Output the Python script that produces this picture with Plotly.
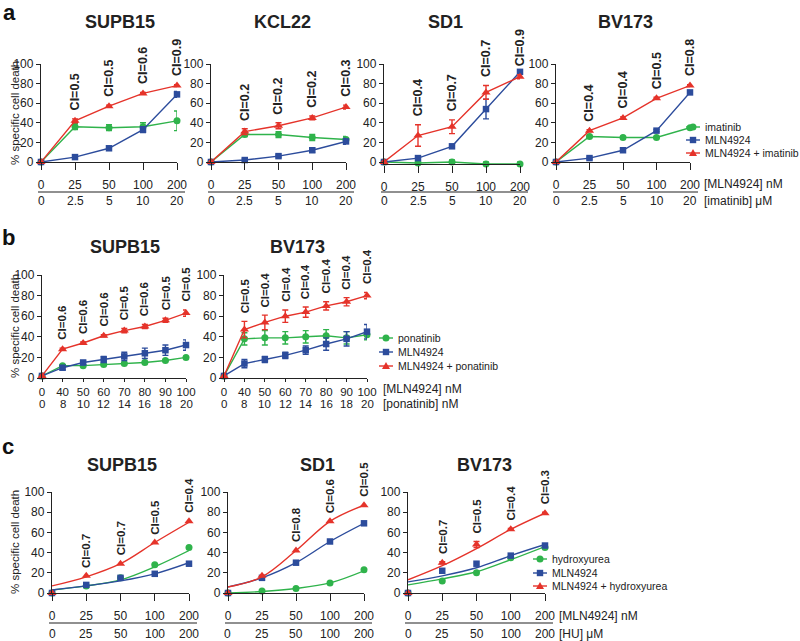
import plotly.graph_objects as go

W, H = 800, 641

# ---------------- data: panel a (imatinib) ----------------
a_mln = [0, 25, 50, 100, 200]
a_ima = [0, 2.5, 5, 10, 20]

a_supb15_drug = [0, 36, 35, 36, 42]
a_supb15_drug_err = [0, 3, 3, 4, 10]
a_supb15_mln = [0, 5, 14, 33, 69]
a_supb15_mln_err = [0, 1, 1, 3, 3]
a_supb15_combo = [0, 42, 57, 70, 78]
a_supb15_combo_err = [0, 2, 1, 1, 1]
a_supb15_ci = ["0.5", "0.5", "0.6", "0.9"]

a_kcl22_drug = [0, 28, 28, 25, 23]
a_kcl22_drug_err = [0, 2, 3, 3, 3]
a_kcl22_mln = [0, 2, 6, 12, 21]
a_kcl22_mln_err = [0, 1, 1, 2, 3]
a_kcl22_combo = [0, 31, 37, 45, 56]
a_kcl22_combo_err = [0, 3, 3, 2, 2]
a_kcl22_ci = ["0.2", "0.2", "0.2", "0.3"]

a_sd1_drug = [0, -1, 0, -2, -2]
a_sd1_drug_err = [0, 2, 2, 2, 2]
a_sd1_mln = [0, 4, 16, 54, 92]
a_sd1_mln_err = [0, 1, 1, 10, 1]
a_sd1_combo = [0, 27, 36, 71, 87]
a_sd1_combo_err = [0, 11, 7, 7, 2]
a_sd1_ci = ["0.4", "0.7", "0.7", "0.9"]

a_bv173_drug = [0, 26, 25, 25, 35]
a_bv173_drug_err = [0, 1, 1, 1, 1]
a_bv173_mln = [0, 4, 12, 32, 71]
a_bv173_mln_err = [0, 1, 1, 1, 2]
a_bv173_combo = [0, 32, 45, 65, 78]
a_bv173_combo_err = [0, 1, 1, 1, 1]
a_bv173_ci = ["0.4", "0.4", "0.5", "0.8"]

# ---------------- data: panel b (ponatinib) ----------------
b_mln = [0, 40, 50, 60, 70, 80, 90, 100]
b_pon = [0, 8, 10, 12, 14, 16, 18, 20]

b_supb15_drug = [2, 12, 12, 13, 14, 15, 17, 20]
b_supb15_drug_err = [0, 1, 1, 1, 1, 1, 1, 1]
b_supb15_mln = [2, 10, 15, 18, 21, 24, 27, 32]
b_supb15_mln_err = [0, 2, 2, 3, 4, 5, 5, 5]
b_supb15_combo = [2, 28, 34, 41, 46, 50, 56, 63]
b_supb15_combo_err = [0, 1, 1, 1, 2, 2, 2, 3]
b_supb15_ci = ["0.6", "0.6", "0.6", "0.5", "0.6", "0.5", "0.5"]

b_bv173_drug = [2, 38, 39, 39, 40, 41, 39, 42]
b_bv173_drug_err = [0, 6, 7, 6, 6, 6, 6, 5]
b_bv173_mln = [2, 14, 18, 22, 27, 33, 38, 45]
b_bv173_mln_err = [0, 4, 3, 3, 4, 6, 7, 7]
b_bv173_combo = [2, 47, 54, 60, 64, 70, 74, 80]
b_bv173_combo_err = [0, 8, 7, 6, 5, 4, 4, 3]
b_bv173_ci = ["0.5", "0.4", "0.4", "0.4", "0.4", "0.4", "0.4"]

# ---------------- data: panel c (hydroxyurea) ----------------
c_mln = [0, 25, 50, 100, 200]
c_hu = [0, 25, 50, 100, 200]

c_supb15_drug = [0, 7, 15, 28, 45]
c_supb15_drug_fit = [3, 7, 13, 26, 42]
c_supb15_mln = [0, 8, 15, 19, 29]
c_supb15_mln_fit = [3, 7, 12, 19, 30]
c_supb15_combo = [0, 17, 29, 50, 71]
c_supb15_combo_fit = [7, 16, 29, 50, 70]
c_supb15_ci = ["0.7", "0.7", "0.5", "0.4"]

c_sd1_drug = [0, 2, 4.5, 10, 23]
c_sd1_drug_fit = [0, 1.5, 4.5, 10, 22]
c_sd1_mln = [0, 15, 30, 51, 69]
c_sd1_mln_fit = [6, 15, 30, 51, 69]
c_sd1_combo = [0, 17, 42, 71, 87]
c_sd1_combo_fit = [6, 16, 42, 71, 87]
c_sd1_ci = [None, "0.8", "0.6", "0.5"]

c_bv173_drug = [0, 12, 20, 35, 45]
c_bv173_drug_fit = [8, 14, 21, 33, 46]
c_bv173_mln = [0, 22, 29, 37, 47]
c_bv173_mln_fit = [11, 17, 25, 37, 48]
c_bv173_combo = [0, 30, 48, 63, 79]
c_bv173_combo_err = [0, 1, 3, 1, 1]
c_bv173_combo_fit = [13, 27, 44, 63, 79]
c_bv173_ci = ["0.7", "0.5", "0.4", "0.3"]

GREEN = "#2fb34b"
BLUE = "#2c4c9c"
RED = "#e5332a"
INK = "#222222"
FONT = "Arial, Liberation Sans, sans-serif"


def px(x):
    return x / W


def py(y):
    return 1 - y / H


# box = (x of y-axis, x of last tick, y of 0, y of 100) in pixels
panels = [
    dict(cats=a_mln, sub=a_ima, box=(41, 177, 162, 64), row2=201, sep=192, tlen=7, fs=12, cifs=12.5,
         title="SUPB15", tpos=(120, 22),
         drug=(a_supb15_drug, a_supb15_drug_err), mln=(a_supb15_mln, a_supb15_mln_err),
         combo=(a_supb15_combo, a_supb15_combo_err), ci=a_supb15_ci),
    dict(cats=a_mln, sub=a_ima, box=(211, 346, 162, 64), row2=201, sep=192, tlen=7, fs=12, cifs=12.5,
         title="KCL22", tpos=(282, 22),
         drug=(a_kcl22_drug, a_kcl22_drug_err), mln=(a_kcl22_mln, a_kcl22_mln_err),
         combo=(a_kcl22_combo, a_kcl22_combo_err), ci=a_kcl22_ci),
    dict(cats=a_mln, sub=a_ima, box=(384, 520, 162, 64), row2=201, sep=192, tlen=7, fs=12, cifs=12.5,
         title="SD1", tpos=(445, 22), ymin=-2.5,
         drug=(a_sd1_drug, a_sd1_drug_err), mln=(a_sd1_mln, a_sd1_mln_err),
         combo=(a_sd1_combo, a_sd1_combo_err), ci=a_sd1_ci),
    dict(cats=a_mln, sub=a_ima, box=(556, 690, 162, 64), row2=201, sep=192, tlen=7, fs=12, cifs=12.5,
         title="BV173", tpos=(625, 22),
         drug=(a_bv173_drug, a_bv173_drug_err), mln=(a_bv173_mln, a_bv173_mln_err),
         combo=(a_bv173_combo, a_bv173_combo_err), ci=a_bv173_ci),
    dict(cats=b_mln, sub=b_pon, box=(42, 186, 378, 275), row2=404, sep=None, tlen=3, fs=11.5, cifs=11.5,
         title="SUPB15", tpos=(125, 247),
         drug=(b_supb15_drug, b_supb15_drug_err), mln=(b_supb15_mln, b_supb15_mln_err),
         combo=(b_supb15_combo, b_supb15_combo_err), ci=b_supb15_ci),
    dict(cats=b_mln, sub=b_pon, box=(224, 367, 378, 275), row2=404, sep=None, tlen=3, fs=11.5, cifs=11.5,
         title="BV173", tpos=(297, 247),
         drug=(b_bv173_drug, b_bv173_drug_err), mln=(b_bv173_mln, b_bv173_mln_err),
         combo=(b_bv173_combo, b_bv173_combo_err), ci=b_bv173_ci),
    dict(cats=c_mln, sub=c_hu, box=(52, 189, 593, 492), row2=634, sep=623, tlen=7, fs=12, cifs=11.5,
         title="SUPB15", tpos=(122, 465),
         drug=(c_supb15_drug, None, c_supb15_drug_fit), mln=(c_supb15_mln, None, c_supb15_mln_fit),
         combo=(c_supb15_combo, None, c_supb15_combo_fit), ci=c_supb15_ci),
    dict(cats=c_mln, sub=c_hu, box=(228, 364, 593, 492), row2=634, sep=623, tlen=7, fs=12, cifs=11.5,
         title="SD1", tpos=(317, 465),
         drug=(c_sd1_drug, None, c_sd1_drug_fit), mln=(c_sd1_mln, None, c_sd1_mln_fit),
         combo=(c_sd1_combo, None, c_sd1_combo_fit), ci=c_sd1_ci),
    dict(cats=c_mln, sub=c_hu, box=(408, 545, 593, 492), row2=634, sep=623, tlen=7, fs=12, cifs=11.5,
         title="BV173", tpos=(485, 465),
         drug=(c_bv173_drug, None, c_bv173_drug_fit), mln=(c_bv173_mln, None, c_bv173_mln_fit),
         combo=(c_bv173_combo, c_bv173_combo_err, c_bv173_combo_fit), ci=c_bv173_ci),
]

styles = [("drug", GREEN, "circle", 7), ("mln", BLUE, "square", 6.5), ("combo", RED, "triangle-up", 8)]

fig = go.Figure()
annotations = []
shapes = []

for i, p in enumerate(panels, start=1):
    xa = "x" if i == 1 else f"x{i}"
    ya = "y" if i == 1 else f"y{i}"
    cats = [str(v) for v in p["cats"]]
    x0, x1, y0, y1 = p["box"]
    ymin = p.get("ymin", 0)
    ybot = y0 - ymin * (y0 - y1) / 100.0

    for key, color, sym, size in styles:
        s = p[key]
        vals, err = s[0], s[1]
        if len(s) == 3:
            # fitted curve drawn separately from the measured points
            fig.add_trace(go.Scatter(x=cats, y=s[2], mode="lines", xaxis=xa, yaxis=ya,
                                     line=dict(color=color, width=1.4, shape="spline", smoothing=1.0),
                                     cliponaxis=False, hoverinfo="skip"))
            mode = "markers"
        else:
            mode = "lines+markers"
        eb = dict(type="data", array=err, color=color, thickness=1.4, width=3) if err else None
        fig.add_trace(go.Scatter(x=cats, y=vals, mode=mode, xaxis=xa, yaxis=ya,
                                 line=dict(color=color, width=1.4),
                                 marker=dict(color=color, symbol=sym, size=size),
                                 error_y=eb, cliponaxis=False))

    # CI labels above the combination points
    combo_vals = p["combo"][0]
    combo_err = p["combo"][1] or [0] * len(combo_vals)
    for j, ci in enumerate(p["ci"], start=1):
        if ci is None:
            continue
        annotations.append(dict(x=j, y=combo_vals[j] + combo_err[j], xref=xa, yref=ya,
                                text=f"CI={ci}", textangle=-90, showarrow=False,
                                xanchor="center", yanchor="bottom", yshift=6,
                                font=dict(family=FONT, size=p["cifs"], color=INK, weight="bold")))

    # second row of dose labels
    for j, s in enumerate(p["sub"]):
        annotations.append(dict(x=j, y=py(p["row2"]), xref=xa, yref="paper", text=str(s),
                                showarrow=False, xanchor="center", yanchor="middle",
                                font=dict(family=FONT, size=p["fs"], color=INK)))

    fig.layout[f"xaxis{i}"] = dict(domain=[px(x0), px(x1)], anchor=ya, type="category",
                                   range=[0, len(cats) - 1], tickvals=cats, ticktext=cats,
                                   showline=True, linecolor=INK, linewidth=1.3,
                                   ticks="outside", ticklen=p["tlen"], tickwidth=1.3, tickcolor=INK,
                                   ticklabelstandoff=4 if p["tlen"] > 5 else 0,
                                   tickfont=dict(family=FONT, size=p["fs"], color=INK),
                                   showgrid=False, zeroline=False, fixedrange=True)
    fig.layout[f"yaxis{i}"] = dict(domain=[py(ybot), py(y1)], anchor=xa, range=[ymin, 100],
                                   tickvals=[0, 20, 40, 60, 80, 100],
                                   showline=True, linecolor=INK, linewidth=1.3,
                                   ticks="outside", ticklen=4, tickwidth=1.3, tickcolor=INK,
                                   tickfont=dict(family=FONT, size=12, color=INK),
                                   showgrid=False, zeroline=False, fixedrange=True)

    annotations.append(dict(x=px(p["tpos"][0]), y=py(p["tpos"][1]), xref="paper", yref="paper",
                            text=p["title"], showarrow=False, xanchor="center", yanchor="middle",
                            font=dict(family=FONT, size=18, color=INK, weight="bold")))
    if p["sep"]:
        shapes.append(dict(type="line", xref="paper", yref="paper",
                           x0=px(x0 - 3), x1=px(x1 + 8), y0=py(p["sep"]), y1=py(p["sep"]),
                           line=dict(color=INK, width=1.2)))

# y-axis titles
for yc in [113, 326, 542]:
    annotations.append(dict(x=px(15), y=py(yc), xref="paper", yref="paper",
                            text="% specific cell death", textangle=-90, showarrow=False,
                            xanchor="center", yanchor="middle",
                            font=dict(family=FONT, size=11.5, color=INK)))

# panel letters
for letter, (lx, ly) in zip(["a", "b", "c"], [(9, 12), (8, 237), (8, 447)]):
    annotations.append(dict(x=px(lx), y=py(ly), xref="paper", yref="paper", text=letter,
                            showarrow=False, xanchor="center", yanchor="middle",
                            font=dict(family=FONT, size=22, color="#111", weight="bold")))

# dose labels at the end of the x axes
for txt, lx, ly in [("[MLN4924] nM", 702, 184), ("[imatinib] μM", 702, 201),
                    ("[MLN4924] nM", 381, 389), ("[ponatinib] nM", 381, 404),
                    ("[MLN4924] nM", 557, 616), ("[HU] μM", 557, 634)]:
    annotations.append(dict(x=px(lx), y=py(ly), xref="paper", yref="paper", text=txt,
                            showarrow=False, xanchor="left", yanchor="middle",
                            font=dict(family=FONT, size=12, color=INK)))

# legends (drawn by hand to match the tight row spacing)
legends = [
    (693, [127, 140, 153], ["imatinib", "MLN4924", "MLN4924 + imatinib"]),
    (386, [338, 352, 366], ["ponatinib", "MLN4924", "MLN4924 + ponatinib"]),
    (540, [559, 573, 586], ["hydroxyurea", "MLN4924", "MLN4924 + hydroxyurea"]),
]
for lx, ys, labels in legends:
    for (key, color, sym, size), ly, lab in zip(styles, ys, labels):
        shapes.append(dict(type="line", xref="paper", yref="paper", x0=px(lx - 7), x1=px(lx + 7),
                           y0=py(ly), y1=py(ly), line=dict(color=color, width=1.4)))
        mk = dict(xref="paper", yref="paper", xsizemode="pixel", ysizemode="pixel",
                  xanchor=px(lx), yanchor=py(ly), fillcolor=color, line=dict(width=0))
        if sym == "circle":
            shapes.append(dict(type="circle", x0=-3.5, x1=3.5, y0=-3.5, y1=3.5, **mk))
        elif sym == "square":
            shapes.append(dict(type="rect", x0=-3.2, x1=3.2, y0=-3.2, y1=3.2, **mk))
        else:
            shapes.append(dict(type="path", path="M -4,-3 L 4,-3 L 0,4 Z", **mk))
        annotations.append(dict(x=px(lx + 10), y=py(ly), xref="paper", yref="paper", text=lab,
                                showarrow=False, xanchor="left", yanchor="middle",
                                font=dict(family=FONT, size=10.5, color=INK)))

fig.update_layout(width=W, height=H, margin=dict(l=0, r=0, t=0, b=0, autoexpand=False),
                  paper_bgcolor="white", plot_bgcolor="white", showlegend=False,
                  annotations=annotations, shapes=shapes,
                  font=dict(family=FONT, color=INK))

# the page's default body margin would shift the figure by 8px
fig.write_html("out.html", config={"displayModeBar": False},
               post_script="document.body.style.margin='0px';")
